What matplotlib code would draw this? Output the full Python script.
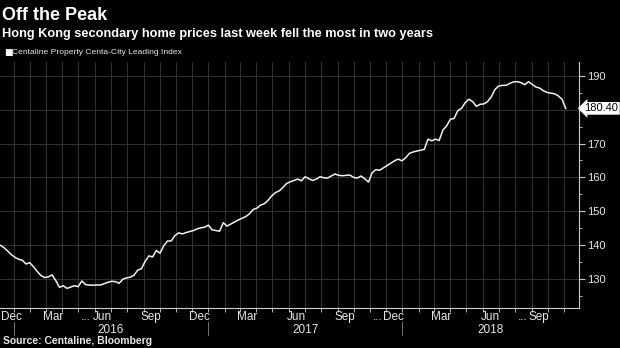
import matplotlib
matplotlib.use('Agg')
import matplotlib.pyplot as plt
import matplotlib.dates as mdates
import matplotlib.transforms as mtransforms
import pandas as pd

# weekly Centa-City Leading Index
start_date = '2015-12-06'
index_values = [
    140.0, 139.3, 138.3, 137.2, 136.4, 135.8, 135.5, 134.4, 134.8, 133.6,
    132.2, 131.0, 130.4, 130.6, 131.2, 129.5, 127.5, 128.0, 127.2, 127.6,
    128.0, 127.7, 129.4, 128.3, 128.2, 128.1, 128.2, 128.2, 128.6, 129.0,
    129.3, 129.2, 128.7, 129.9, 130.3, 130.5, 131.1, 132.6, 133.0, 135.2,
    136.8, 136.5, 138.4, 137.6, 139.8, 141.2, 141.2, 142.8, 143.6, 143.3,
    143.7, 144.0, 144.3, 144.8, 145.1, 145.3, 145.9, 144.5, 144.3, 144.1,
    146.6, 145.6, 146.2, 146.8, 147.4, 147.9, 148.4, 149.2, 150.5, 150.9,
    151.8, 152.2, 153.2, 154.5, 155.5, 156.0, 157.0, 158.2, 158.7, 159.1,
    159.5, 159.0, 160.2, 159.6, 159.1, 159.5, 160.2, 159.9, 159.8, 160.4,
    161.0, 160.6, 160.5, 160.6, 160.7, 160.0, 159.8, 160.4, 159.6, 158.6,
    161.4, 162.3, 162.1, 162.8, 163.5, 164.2, 164.9, 165.4, 164.9, 165.8,
    167.1, 167.5, 167.8, 168.0, 168.3, 171.3, 170.8, 171.3, 170.9, 174.0,
    175.2, 177.2, 177.4, 179.7, 180.4, 182.1, 183.1, 182.4, 181.0, 181.6,
    181.7, 182.4, 183.8, 186.0, 187.0, 187.2, 187.2, 187.8, 188.2, 188.3,
    188.0, 187.4, 188.3, 187.5, 186.7, 186.4, 185.6, 185.1, 184.9, 184.7,
    184.1, 183.1, 180.4,
]
last_value = 180.40

y_ticks = [130, 140, 150, 160, 170, 180, 190]
y_tick_labels = ['130', '140', '150', '160', '170', '', '190']  # 180 hidden by tag

month_label_dates = ['2015-12-15', '2016-03-15', '2016-06-15', '2016-09-15',
                     '2016-12-15', '2017-03-15', '2017-06-15', '2017-09-15',
                     '2017-12-15', '2018-03-15', '2018-06-15', '2018-09-15']
month_labels = ['Dec', 'Mar', 'Jun', 'Sep', 'Dec', 'Mar', 'Jun', 'Sep',
                'Dec', 'Mar', 'Jun', 'Sep']
ellipsis_before = [False, False, True, False, False, False, False, False,
                   True, False, False, True]
year_labels = ['2016', '2017', '2018']

dates = pd.date_range(start_date, periods=len(index_values), freq='7D')
x_min = pd.Timestamp('2015-12-06')
x_max = pd.Timestamp('2018-11-29')

fg = '#e6e6e6'
grid_c = '#3a3a3a'
font = 'Liberation Sans'

fig = plt.figure(figsize=(6.2, 3.48), dpi=100, facecolor='black')
ax = fig.add_axes([0, 40 / 348, 579 / 620, 246 / 348], facecolor='black')

ax.plot(dates, index_values, color='#f0f0f0', lw=1.1, solid_joinstyle='round')

ax.set_xlim(x_min, x_max)
ax.set_ylim(121.4, 194.1)

for s in ['top', 'left']:
    ax.spines[s].set_visible(False)
for s in ['right', 'bottom']:
    ax.spines[s].set_color('#cccccc')
    ax.spines[s].set_linewidth(0.8)

ax.yaxis.tick_right()
ax.set_yticks(y_ticks)
ax.set_yticklabels(y_tick_labels, family=font)
ax.set_yticks(range(125, 194, 5), minor=True)
ax.tick_params(axis='y', which='major', colors='#cccccc', labelcolor=fg,
               length=4, width=0.8, pad=2, labelsize=8)
ax.tick_params(axis='y', which='minor', colors='#cccccc', length=2.5, width=0.6)

ax.xaxis.set_major_locator(mdates.MonthLocator())
ax.xaxis.set_major_formatter(plt.NullFormatter())
ax.tick_params(axis='x', which='major', colors='#cccccc', length=3, width=0.6)
ax.grid(True, which='major', axis='both', color=grid_c, lw=0.6)
ax.set_axisbelow(True)

# month labels
trans = mtransforms.blended_transform_factory(ax.transData, ax.transAxes)
for d, lab, dots in zip(month_label_dates, month_labels, ellipsis_before):
    xd = mdates.date2num(pd.Timestamp(d))
    ha = 'center'
    if pd.Timestamp(d) < x_min + pd.Timedelta(days=20):
        xd = mdates.date2num(x_min)
        ha = 'left'
    ax.annotate(lab, (xd, 0), xycoords=trans, xytext=(1 if ha == 'left' else 0, -6.8),
                textcoords='offset points', ha=ha, va='center',
                color=fg, fontsize=8.5, family=font)
    if dots:
        ax.annotate('...', (xd, 0), xycoords=trans, xytext=(-8, -6.8),
                    textcoords='offset points', ha='right', va='center',
                    color=fg, fontsize=8.5, family=font)

# year labels and separators
for yl in year_labels:
    y0 = max(pd.Timestamp(yl + '-01-01'), x_min)
    y1 = min(pd.Timestamp(str(int(yl) + 1) + '-01-01'), x_max)
    mid = mdates.date2num(y0) + (mdates.date2num(y1) - mdates.date2num(y0)) / 2
    ax.annotate(yl, (mid, 0), xycoords=trans, xytext=(0, -15.5),
                textcoords='offset points', ha='center', va='center',
                color=fg, fontsize=8.5, family=font)
    jan = mdates.date2num(pd.Timestamp(yl + '-01-01'))
    ax.plot([jan, jan], [-0.055, -0.11], transform=trans, color='#888888',
            lw=0.6, clip_on=False)

# last value tag
ax.annotate(f'{last_value:.2f}', (1.0, last_value),
            xycoords=mtransforms.blended_transform_factory(ax.transAxes, ax.transData),
            xytext=(4, 0), textcoords='offset points', ha='left', va='center',
            color='black', fontsize=8, family=font,
            bbox=dict(boxstyle='larrow,pad=0.12', fc='white', ec='none'))

fig.text(0.003, 0.955, 'Off the Peak', color='white', fontsize=13,
         fontweight='bold', family=font, va='center', ha='left')
fig.text(0.003, 0.903, 'Hong Kong secondary home prices last week fell the most in two years',
         color='white', fontsize=9.2, fontweight='bold', family=font,
         va='center', ha='left')
fig.text(0.006, 0.848, '\u25a0', color='white', fontsize=6.5, va='center', ha='left',
         family='DejaVu Sans')
fig.text(0.019, 0.848, 'Centaline Property Centa-City Leading Index', color=fg,
         fontsize=6.1, family=font, va='center', ha='left')
fig.text(0.005, 0.02, 'Source: Centaline, Bloomberg', color=fg, fontsize=7.5,
         fontweight='bold', family=font, va='center', ha='left')

fig.savefig('out.png', dpi=100, facecolor='black')
